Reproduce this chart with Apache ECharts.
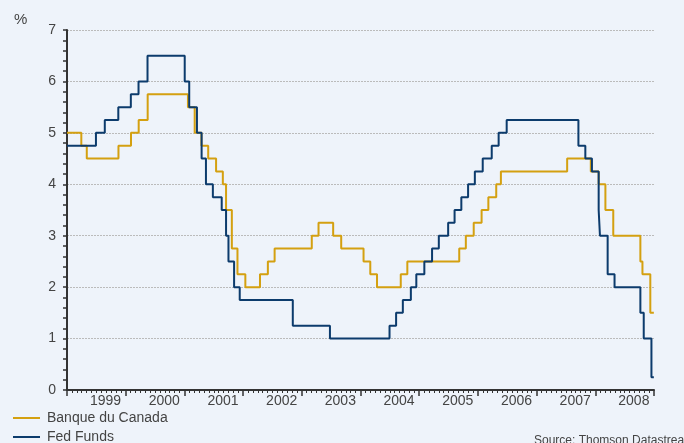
<!DOCTYPE html>
<html>
<head>
<meta charset="utf-8">
<script src="https://cdn.jsdelivr.net/npm/echarts@6/dist/echarts.min.js"></script>
<style>
html,body{margin:0;padding:0;background:#eef3fa;}
#chart{width:684px;height:443px;}
</style>
</head>
<body>
<div id="chart"></div>
<script>
// Fed Funds target rate: change dates and new levels (%)
const fedDates = ['1999-01-01','1999-06-30','1999-08-24','1999-11-16','2000-02-02','2000-03-21','2000-05-16','2001-01-03','2001-01-31','2001-03-20','2001-04-18','2001-05-15','2001-06-27','2001-08-21','2001-09-17','2001-10-02','2001-11-06','2001-12-11','2002-11-06','2003-06-25','2004-06-30','2004-08-10','2004-09-21','2004-11-10','2004-12-14','2005-02-02','2005-03-22','2005-05-03','2005-06-30','2005-08-09','2005-09-20','2005-11-01','2005-12-13','2006-01-31','2006-03-28','2006-05-10','2006-06-29','2007-09-18','2007-10-31','2007-12-11','2008-01-22','2008-01-30','2008-03-18','2008-04-30','2008-10-08','2008-10-29','2008-12-16','2008-12-31'];
const fedRates = [4.75,5.00,5.25,5.50,5.75,6.00,6.50,6.00,5.50,5.00,4.50,4.00,3.75,3.50,3.00,2.50,2.00,1.75,1.25,1.00,1.25,1.50,1.75,2.00,2.25,2.50,2.75,3.00,3.25,3.50,3.75,4.00,4.25,4.50,4.75,5.00,5.25,4.75,4.50,4.25,3.50,3.00,2.25,2.00,1.50,1.00,0.25,0.25];

// Banque du Canada overnight target rate
const bocDates = ['1999-01-01','1999-03-31','1999-05-04','1999-11-17','2000-02-03','2000-03-22','2000-05-17','2001-01-23','2001-03-06','2001-04-17','2001-05-29','2001-07-17','2001-08-28','2001-09-17','2001-10-23','2001-11-27','2002-01-15','2002-04-16','2002-06-04','2002-07-16','2003-03-04','2003-04-15','2003-07-15','2003-09-03','2004-01-20','2004-03-02','2004-04-13','2004-09-08','2004-10-19','2005-09-07','2005-10-18','2005-12-06','2006-01-24','2006-03-07','2006-04-25','2006-05-24','2007-07-10','2007-12-04','2008-01-22','2008-03-04','2008-04-22','2008-10-08','2008-10-21','2008-12-09','2008-12-31'];
const bocRates = [5.00,4.75,4.50,4.75,5.00,5.25,5.75,5.50,5.00,4.75,4.50,4.25,4.00,3.50,2.75,2.25,2.00,2.25,2.50,2.75,3.00,3.25,3.00,2.75,2.50,2.25,2.00,2.25,2.50,2.75,3.00,3.25,3.50,3.75,4.00,4.25,4.50,4.25,4.00,3.50,3.00,2.50,2.25,1.50,1.50];

const yearTicks = [1999,2000,2001,2002,2003,2004,2005,2006,2007,2008];
const seriesNames = ['Banque du Canada','Fed Funds'];
const yTickLabels = ['0','1','2','3','4','5','6','7'];

function toYear(s){
  const d = Date.parse(s + 'T00:00:00Z');
  const y = new Date(d).getUTCFullYear();
  const a = Date.UTC(y,0,1), b = Date.UTC(y+1,0,1);
  return y + (d - a) / (b - a);
}
const bocData = bocDates.map((d,i)=>[toYear(d), bocRates[i]]);
const fedData = fedDates.map((d,i)=>[toYear(d), fedRates[i]]);

const font = '"Liberation Sans", Arial, sans-serif';
const txt = '#444';
const legendBase = {
  orient: 'horizontal', left: 13, padding: 0,
  icon: 'rect', itemWidth: 27, itemHeight: 2,
  textStyle: {color: txt, fontSize: 14, lineHeight: 14, padding: [0,0,0,2], fontFamily: font}
};
const chart = echarts.init(document.getElementById('chart'), null, {renderer:'canvas'});
chart.setOption({
  backgroundColor: '#eef3fa',
  animation: false,
  textStyle: {fontFamily: font},
  grid: {left: 67, right: 30, top: 30, bottom: 53},
  xAxis: {
    type: 'value', min: 1999, max: 2009, interval: 1,
    axisLine: {show: true, lineStyle: {color: '#333', width: 2}},
    axisTick: {show: true, length: 6, lineStyle: {color: '#333', width: 1.5}},
    minorTick: {show: true, splitNumber: 12, length: 3, lineStyle: {color: '#333', width: 1}},
    splitLine: {show: false},
    minorSplitLine: {show: false},
    axisLabel: {
      showMaxLabel: false,
      formatter: v => yearTicks.includes(Math.round(v)) ? String(Math.round(v)) : '',
      align: 'left', padding: [0,0,0,23], margin: 4,
      color: txt, fontSize: 14, fontFamily: font
    }
  },
  yAxis: {
    type: 'value', min: 0, max: 7, interval: 1,
    axisLine: {show: true, lineStyle: {color: '#333', width: 2}},
    axisTick: {show: true, length: 4, lineStyle: {color: '#333', width: 1.5}},
    minorTick: {show: true, splitNumber: 5, length: 4, lineStyle: {color: '#333', width: 1.5}},
    splitLine: {show: true, lineStyle: {color: '#bbbbbb', type: [2,1], width: 1}},
    axisLabel: {formatter: v => yTickLabels[Math.round(v)], margin: 11, color: txt, fontSize: 14, fontFamily: font}
  },
  legend: [
    Object.assign({}, legendBase, {data: [seriesNames[0]], top: 411}),
    Object.assign({}, legendBase, {data: [seriesNames[1]], top: 430})
  ],
  graphic: [
    {type: 'text', left: 14, top: 12, style: {text: '%', fill: txt, fontSize: 15, fontFamily: font}},
    {type: 'text', left: 534, top: 435, style: {text: 'Source: Thomson Datastream', fill: txt, fontSize: 12, fontFamily: font}}
  ],
  series: [
    {name: seriesNames[0], type: 'line', step: 'end', data: bocData, showSymbol: false,
     lineStyle: {color: '#d4a010', width: 2}, itemStyle: {color: '#d4a010'}},
    {name: seriesNames[1], type: 'line', step: 'end', data: fedData, showSymbol: false,
     lineStyle: {color: '#0c3b6c', width: 2}, itemStyle: {color: '#0c3b6c'}}
  ]
});
</script>
</body>
</html>
